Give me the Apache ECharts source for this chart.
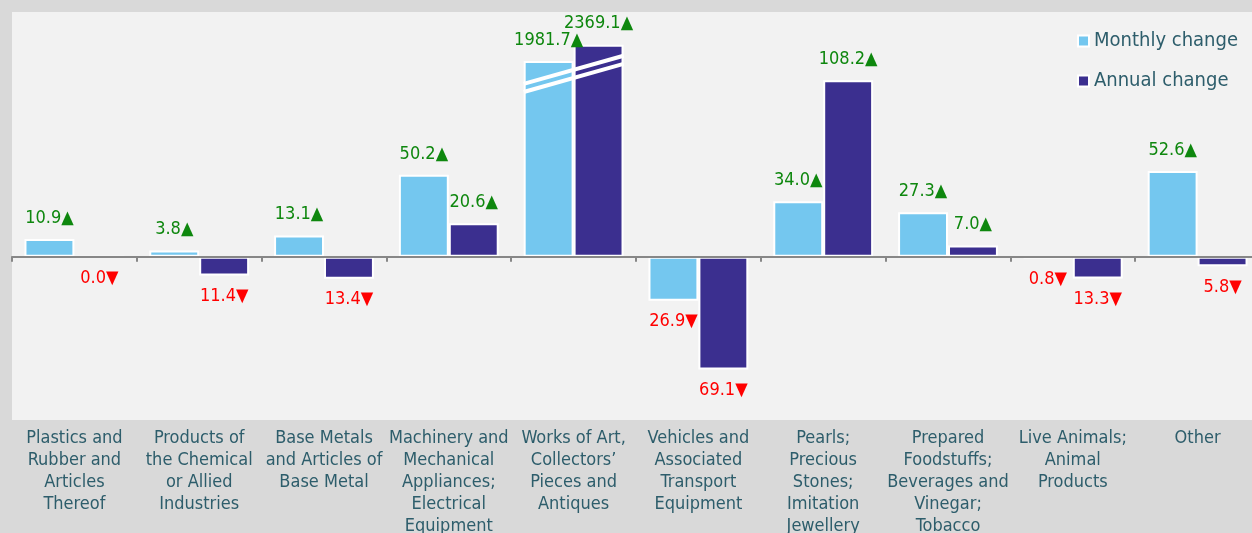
<!DOCTYPE html>
<html>
<head>
<meta charset="utf-8">
<title>Monthly and annual change by section</title>
<script src="https://cdn.jsdelivr.net/npm/echarts@6/dist/echarts.min.js"></script>
<style>
    html, body { margin: 0; padding: 0; background: #d9d9d9; }
    #main { width: 1252px; height: 533px; }
</style>
</head>
<body>
<div id="main"></div>
<script>
// 数据
var categories = [
    "Plastics and\nRubber and\nArticles\nThereof",
    "Products of\nthe Chemical\nor Allied\nIndustries",
    "Base Metals\nand Articles of\nBase Metal",
    "Machinery and\nMechanical\nAppliances;\nElectrical\nEquipment",
    "Works of Art,\nCollectors\u2019\nPieces and\nAntiques",
    "Vehicles and\nAssociated\nTransport\nEquipment",
    "Pearls;\nPrecious\nStones;\nImitation\nJewellery",
    "Prepared\nFoodstuffs;\nBeverages and\nVinegar;\nTobacco",
    "Live Animals;\nAnimal\nProducts",
    "Other"
];
var monthlyChange = [10.9, 3.8, 13.1, 50.2, 1981.7, -26.9, 34.0, 27.3, -0.8, 52.6];
var annualChange = [-0.0, -11.4, -13.4, 20.6, 2369.1, -69.1, 108.2, 7.0, -13.3, -5.8];
// 断轴的柱子 (Works of Art) 画出来的高度
var brokenIndex = 4;
var monthlyShown = 120;
var annualShown = 130;

var FONT = "'Liberation Sans Narrow', 'DejaVu Sans Condensed', sans-serif";
var TEAL = "#2d5d6b";

function isDown(v) {
    return v < 0 || Object.is(v, -0);
}

function buildData(values, shown) {
    return values.map(function (v, i) {
        var down = isDown(v);
        return {
            value: i === brokenIndex ? shown : v,
            label: {
                position: down ? "bottom" : "top",
                color: down ? "#ff0000" : "#0e870e",
                formatter: Math.abs(v).toFixed(1) + (down ? "\u25BC" : "\u25B2")
            }
        };
    });
}

var chart = echarts.init(document.getElementById("main"));

var barLabel = {
    show: true,
    distance: 12,
    fontFamily: FONT,
    fontSize: 18
};

var option = {
    backgroundColor: "#d9d9d9",
    animation: false,
    grid: {
        left: 12,
        right: -8,
        top: 12,
        bottom: 113,
        outerBoundsMode: "none",
        containLabel: false,
        show: true,
        backgroundColor: "#f2f2f2",
        borderWidth: 0
    },
    legend: {
        orient: "vertical",
        left: 1072,
        top: 26,
        icon: "rect",
        itemWidth: 11,
        itemHeight: 11,
        itemGap: 20,
        data: ["Monthly change", "Annual change"],
        textStyle: {
            fontFamily: FONT,
            fontSize: 20,
            color: TEAL
        }
    },
    xAxis: [
        {
            // 底部的分类标签
            type: "category",
            data: categories,
            position: "bottom",
            axisLine: { show: false, onZero: false },
            axisTick: { show: false },
            axisLabel: {
                interval: 0,
                margin: 7,
                fontFamily: FONT,
                fontSize: 18,
                lineHeight: 22,
                color: TEAL,
                verticalAlign: "top"
            }
        },
        {
            // 零线和刻度
            type: "category",
            data: categories,
            position: "bottom",
            z: 10,
            axisLine: {
                onZero: true,
                lineStyle: { color: "#878787", width: 2 }
            },
            axisTick: {
                show: true,
                length: 5,
                lineStyle: { color: "#878787", width: 2 }
            },
            axisLabel: { show: false }
        }
    ],
    yAxis: {
        type: "value",
        min: -100,
        max: 150,
        show: false,
        splitLine: { show: false }
    },
    series: [
        {
            name: "Monthly change",
            type: "bar",
            barGap: "0%",
            barCategoryGap: "20%",
            itemStyle: { color: "#74c7ef", borderColor: "#ffffff", borderWidth: 2 },
            label: barLabel,
            data: buildData(monthlyChange, monthlyShown)
        },
        {
            name: "Annual change",
            type: "bar",
            barGap: "0%",
            barCategoryGap: "20%",
            itemStyle: { color: "#3b2f8f", borderColor: "#ffffff", borderWidth: 2 },
            label: barLabel,
            data: buildData(annualChange, annualShown)
        },
        {
            // 断轴的白色斜线
            type: "custom",
            silent: true,
            z: 5,
            data: [[brokenIndex]],
            renderItem: function (params, api) {
                var half = api.size([1, 0])[0] * 0.4;
                var idx = api.value(0);
                var lines = [[106, 123.2], [101, 118.2]];
                return {
                    type: "group",
                    children: lines.map(function (l) {
                        var a = api.coord([idx, l[0]]);
                        var b = api.coord([idx, l[1]]);
                        return {
                            type: "line",
                            shape: { x1: a[0] - half, y1: a[1], x2: b[0] + half, y2: b[1] },
                            style: { stroke: "#ffffff", lineWidth: 4 }
                        };
                    })
                };
            }
        }
    ]
};

chart.setOption(option);

window.addEventListener("resize", function () {
    chart.resize();
});
</script>
</body>
</html>
